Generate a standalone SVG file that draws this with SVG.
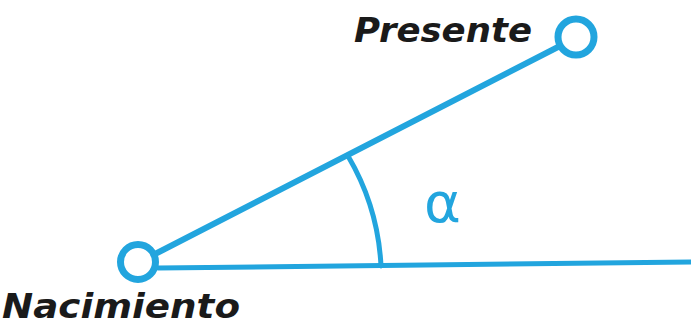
<svg xmlns="http://www.w3.org/2000/svg" width="691" height="335" viewBox="0 0 691 335">
<style>
.s{fill:none;stroke:#22a5de;stroke-linecap:round}
.t{font-family:"DejaVu Sans",sans-serif;font-weight:bold;font-style:italic;fill:#1a1a1a}
</style>
<rect width="691" height="335" fill="#fff"/>
<g id="connectors">
<line class="s" x1="157" y1="253" x2="558" y2="47" stroke-width="6"/>
<path class="s" d="M158 268 L691 262" stroke-width="5"/>
<path class="s" d="M348 156 A240 240 0 0 1 381 266" stroke-width="5"/>
</g>
<g id="nacimiento">
<circle class="s" cx="138" cy="262" r="17.5" stroke-width="7"/>
<text class="t" x="2" y="318" font-size="34" textLength="238" lengthAdjust="spacingAndGlyphs">Nacimiento</text>
</g>
<g id="presente">
<circle class="s" cx="576" cy="37" r="18" stroke-width="7"/>
<text class="t" x="354" y="42" font-size="34" textLength="178" lengthAdjust="spacingAndGlyphs">Presente</text>
</g>
<g id="alpha">
<text x="424" y="222" font-family="DejaVu Sans,sans-serif" font-size="56" fill="#22a5de">α</text>
</g>
</svg>
